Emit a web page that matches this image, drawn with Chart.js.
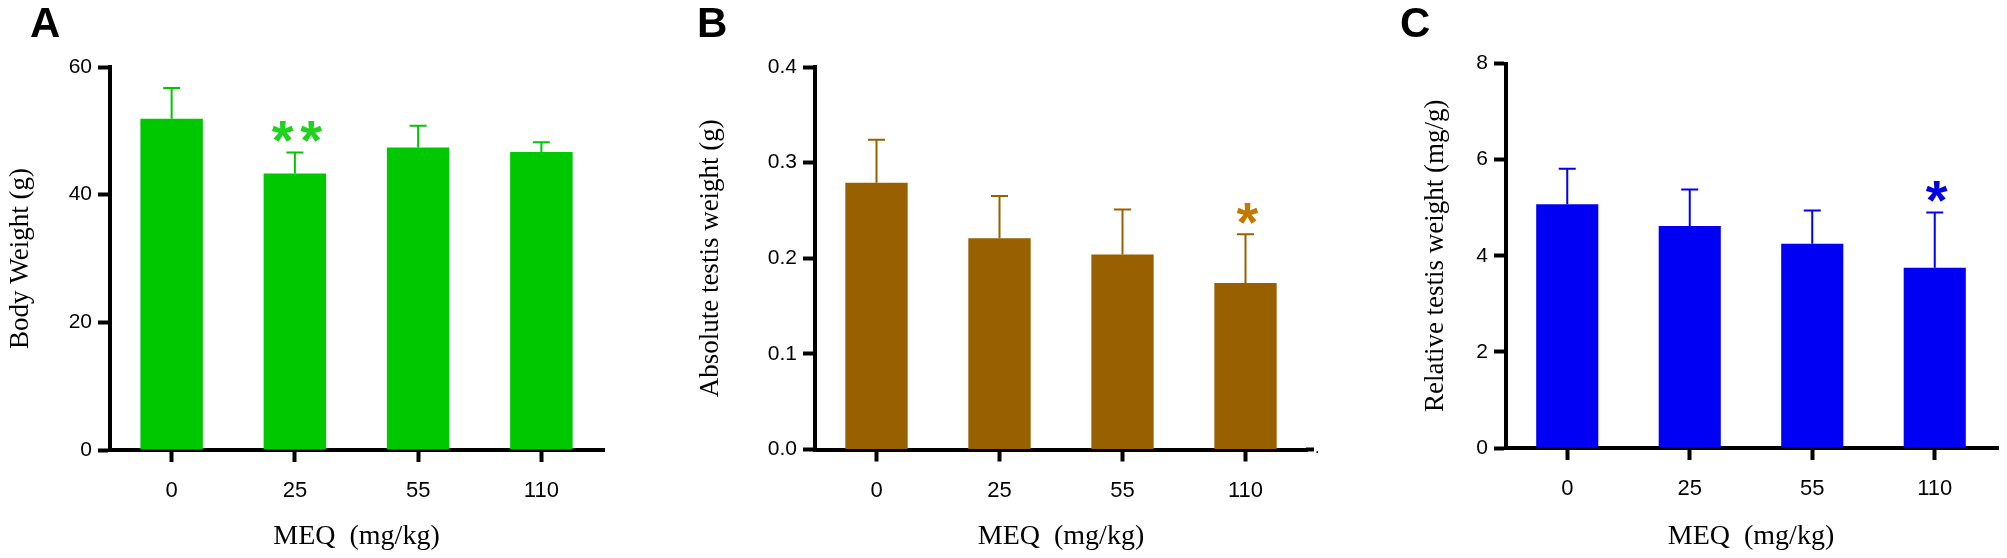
<!DOCTYPE html>
<html>
<head>
<meta charset="utf-8">
<title>MEQ body and testis weight</title>
<script src="https://cdn.jsdelivr.net/npm/chart.js@4.4.1/dist/chart.umd.min.js"></script>
<style>
    body { margin: 0; background: #fff; width: 2007px; height: 558px; position: relative; overflow: hidden; }
    canvas { position: absolute; top: 0; }
    .panel-letter { position: absolute; top: 2px; font: bold 42px "Liberation Sans", Arial, sans-serif; line-height: 1; color: #000; }
</style>
</head>
<body>
<canvas id="chartA" width="669" height="558" style="left:0"></canvas>
<canvas id="chartB" width="669" height="558" style="left:669px"></canvas>
<canvas id="chartC" width="669" height="558" style="left:1338px"></canvas>
<div class="panel-letter" style="left:30px">A</div>
<div class="panel-letter" style="left:697px">B</div>
<div class="panel-letter" style="left:1400px">C</div>
<script>
// Data (mean and SD per dose group)
const doses = ['0', '25', '55', '110'];
const bodyWeight = [51.9, 43.3, 47.4, 46.7];
const bodyWeightSd = [4.8, 3.3, 3.4, 1.5];
const absTestis = [0.279, 0.221, 0.204, 0.174];
const absTestisSd = [0.045, 0.044, 0.047, 0.051];
const relTestis = [5.07, 4.62, 4.25, 3.75];
const relTestisSd = [0.74, 0.76, 0.69, 1.15];

// significance marks per group
const starsA = ['', '**', '', ''];
const starsB = ['', '', '', '*'];
const starsC = ['', '', '', '*'];

// y tick labels
const ticksA = [0, 20, 40, 60];
const ticksB = [0, 0.1, 0.2, 0.3, 0.4];
const ticksC = [0, 2, 4, 6, 8];

const sans = '"Liberation Sans", Arial, sans-serif';
const serif = '"Liberation Serif", "Times New Roman", serif';

// draws the upper SD whisker and the asterisks above it
const errorBars = {
    id: 'errorBars',
    afterDatasetsDraw(chart, args, opts) {
        const ctx = chart.ctx;
        const y = chart.scales.y;
        const area = chart.chartArea;
        const values = chart.data.datasets[0].data;
        const meta = chart.getDatasetMeta(0);
        ctx.save();

        // x axis runs a little past the last category, like the original
        ctx.strokeStyle = '#000';
        ctx.lineWidth = 4;
        ctx.beginPath();
        ctx.moveTo(area.right - 1, area.bottom);
        ctx.lineTo(area.right + opts.axisExtra, area.bottom);
        ctx.stroke();
        if (opts.trailingDot) {
            ctx.fillStyle = '#000';
            ctx.font = '16px ' + sans;
            ctx.textAlign = 'left';
            ctx.textBaseline = 'alphabetic';
            ctx.fillText('.', area.right + opts.axisExtra + 1, area.bottom + 3);
        }

        ctx.strokeStyle = opts.color;
        ctx.lineWidth = 2;
        meta.data.forEach((bar, i) => {
            const top = y.getPixelForValue(values[i] + opts.sd[i]);
            ctx.beginPath();
            ctx.moveTo(bar.x, bar.y);
            ctx.lineTo(bar.x, top);
            ctx.moveTo(bar.x - 8.5, top);
            ctx.lineTo(bar.x + 8.5, top);
            ctx.stroke();

            const marks = opts.stars[i];
            if (!marks) return;
            ctx.fillStyle = opts.starColor;
            ctx.font = 'bold 56px ' + sans;
            ctx.textAlign = 'center';
            ctx.textBaseline = 'alphabetic';
            const m = ctx.measureText('*');
            const cy = top - 21;
            const by = cy - (m.actualBoundingBoxDescent - m.actualBoundingBoxAscent) / 2;
            const n = marks.length;
            for (let k = 0; k < n; k++) {
                const cx = bar.x + 2 + (k - (n - 1) / 2) * 28.5;
                ctx.fillText('*', cx, by);
            }
        });
        ctx.restore();
    }
};

function makeChart(id, p) {
    const axisGrid = {
        display: true,
        drawOnChartArea: false,
        offset: false,
        color: '#000',
        tickLength: 12,
        tickWidth: 4
    };
    return new Chart(document.getElementById(id), {
        type: 'bar',
        data: {
            labels: doses,
            datasets: [{
                data: p.values,
                backgroundColor: p.color,
                borderWidth: 0,
                barPercentage: 0.507,
                categoryPercentage: 1
            }]
        },
        options: {
            responsive: false,
            animation: false,
            layout: { padding: { left: 0, top: p.top, right: p.right, bottom: 0 } },
            plugins: {
                legend: { display: false },
                tooltip: { enabled: false },
                errorBars: {
                    sd: p.sd, color: p.color, stars: p.stars, starColor: p.starColor,
                    axisExtra: p.axisExtra, trailingDot: !!p.trailingDot
                }
            },
            scales: {
                x: {
                    grid: axisGrid,
                    border: { display: true, color: '#000', width: 4 },
                    ticks: { color: '#000', font: { family: sans, size: 22 }, padding: 16 },
                    title: {
                        display: true,
                        text: 'MEQ  (mg/kg)',
                        color: '#000',
                        font: { family: serif, size: 28 },
                        padding: { top: 0, bottom: 5 }
                    },
                    afterFit: s => { s.height = p.xHeight; }
                },
                y: {
                    min: 0,
                    max: p.ticks[p.ticks.length - 1],
                    afterBuildTicks: s => { s.ticks = p.ticks.map(v => ({ value: v })); },
                    grid: axisGrid,
                    border: { display: true, color: '#000', width: 4 },
                    ticks: {
                        color: '#000',
                        font: { family: sans, size: 21 },
                        padding: 6,
                        callback: v => p.fmt(v)
                    },
                    title: {
                        display: true,
                        text: p.yTitle,
                        color: '#000',
                        font: { family: serif, size: 27 },
                        padding: { top: p.titlePad, bottom: 0 }
                    },
                    afterFit: s => { s.width = p.yWidth; }
                }
            }
        },
        plugins: [errorBars]
    });
}

makeChart('chartA', {
    values: bodyWeight, sd: bodyWeightSd, stars: starsA, ticks: ticksA,
    color: '#00C800', starColor: '#1ED21E',
    yTitle: 'Body Weight (g)', fmt: v => String(v),
    top: 67, right: 66, yWidth: 110, xHeight: 108, titlePad: 5, axisExtra: 2
});

makeChart('chartB', {
    values: absTestis, sd: absTestisSd, stars: starsB, ticks: ticksB,
    color: '#996000', starColor: '#C47800',
    yTitle: 'Absolute testis weight (g)', fmt: v => v.toFixed(1),
    top: 67, right: 31, yWidth: 146, xHeight: 108.5, titlePad: 26, axisExtra: 7,
    trailingDot: true
});

makeChart('chartC', {
    values: relTestis, sd: relTestisSd, stars: starsC, ticks: ticksC,
    color: '#0000F5', starColor: '#0000E0',
    yTitle: 'Relative testis weight (mg/g)', fmt: v => String(v),
    top: 63.5, right: 11, yWidth: 168, xHeight: 110, titlePad: 82, axisExtra: 3
});
</script>
</body>
</html>
